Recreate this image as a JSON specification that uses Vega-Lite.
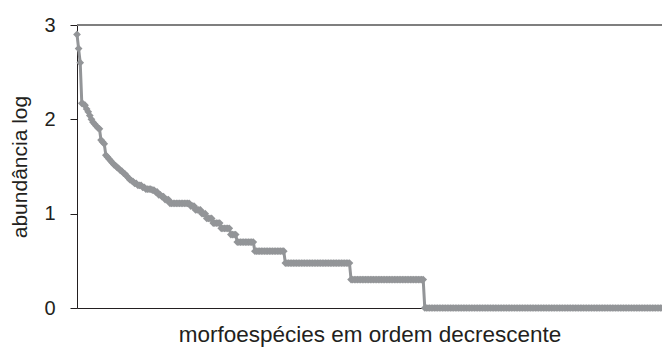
{
"$schema": "https://vega.github.io/schema/vega-lite/v6.json",
"width": 585, "height": 283,
"autosize": {"type": "none"},
"padding": {"left": 77, "top": 25, "right": 0, "bottom": 48},
"background": "white",
"config": {"view": {"stroke": null}, "font": "Liberation Sans"},
"data": {"values": [
{"r":1,"v":2.9},{"r":2,"v":2.75},{"r":3,"v":2.6},{"r":4,"v":2.17},{"r":5,"v":2.16},{"r":6,"v":2.15},{"r":7,"v":2.11},{"r":8,"v":2.08},{"r":9,"v":2.04},{"r":10,"v":2.0},
{"r":11,"v":1.97},{"r":12,"v":1.95},{"r":13,"v":1.93},{"r":14,"v":1.91},{"r":15,"v":1.9},{"r":16,"v":1.78},{"r":17,"v":1.76},{"r":18,"v":1.74},{"r":19,"v":1.62},{"r":20,"v":1.6},
{"r":21,"v":1.58},{"r":22,"v":1.56},{"r":23,"v":1.54},{"r":24,"v":1.52},{"r":25,"v":1.51},{"r":26,"v":1.49},{"r":27,"v":1.48},{"r":28,"v":1.46},{"r":29,"v":1.45},{"r":30,"v":1.43},
{"r":31,"v":1.42},{"r":32,"v":1.4},{"r":33,"v":1.38},{"r":34,"v":1.36},{"r":35,"v":1.35},{"r":36,"v":1.34},{"r":37,"v":1.32},{"r":38,"v":1.32},{"r":39,"v":1.3},{"r":40,"v":1.3},
{"r":41,"v":1.3},{"r":42,"v":1.28},{"r":43,"v":1.28},{"r":44,"v":1.26},{"r":45,"v":1.26},{"r":46,"v":1.26},{"r":47,"v":1.26},{"r":48,"v":1.25},{"r":49,"v":1.25},{"r":50,"v":1.23},
{"r":51,"v":1.23},{"r":52,"v":1.2},{"r":53,"v":1.2},{"r":54,"v":1.18},{"r":55,"v":1.18},{"r":56,"v":1.15},{"r":57,"v":1.15},{"r":58,"v":1.15},{"r":59,"v":1.11},{"r":60,"v":1.11},
{"r":61,"v":1.11},{"r":62,"v":1.11},{"r":63,"v":1.11},{"r":64,"v":1.11},{"r":65,"v":1.11},{"r":66,"v":1.11},{"r":67,"v":1.11},{"r":68,"v":1.11},{"r":69,"v":1.11},{"r":70,"v":1.11},
{"r":71,"v":1.11},{"r":72,"v":1.08},{"r":73,"v":1.08},{"r":74,"v":1.08},{"r":75,"v":1.04},{"r":76,"v":1.04},{"r":77,"v":1.04},{"r":78,"v":1.04},{"r":79,"v":1.0},{"r":80,"v":1.0},
{"r":81,"v":1.0},{"r":82,"v":0.95},{"r":83,"v":0.95},{"r":84,"v":0.95},{"r":85,"v":0.95},{"r":86,"v":0.9},{"r":87,"v":0.9},{"r":88,"v":0.9},{"r":89,"v":0.9},{"r":90,"v":0.9},
{"r":91,"v":0.845},{"r":92,"v":0.845},{"r":93,"v":0.845},{"r":94,"v":0.845},{"r":95,"v":0.845},{"r":96,"v":0.845},{"r":97,"v":0.778},{"r":98,"v":0.778},{"r":99,"v":0.778},{"r":100,"v":0.778},
{"r":101,"v":0.699},{"r":102,"v":0.699},{"r":103,"v":0.699},{"r":104,"v":0.699},{"r":105,"v":0.699},{"r":106,"v":0.699},{"r":107,"v":0.699},{"r":108,"v":0.699},{"r":109,"v":0.699},{"r":110,"v":0.699},
{"r":111,"v":0.699},{"r":112,"v":0.602},{"r":113,"v":0.602},{"r":114,"v":0.602},{"r":115,"v":0.602},{"r":116,"v":0.602},{"r":117,"v":0.602},{"r":118,"v":0.602},{"r":119,"v":0.602},{"r":120,"v":0.602},
{"r":121,"v":0.602},{"r":122,"v":0.602},{"r":123,"v":0.602},{"r":124,"v":0.602},{"r":125,"v":0.602},{"r":126,"v":0.602},{"r":127,"v":0.602},{"r":128,"v":0.602},{"r":129,"v":0.602},{"r":130,"v":0.602},
{"r":131,"v":0.477},{"r":132,"v":0.477},{"r":133,"v":0.477},{"r":134,"v":0.477},{"r":135,"v":0.477},{"r":136,"v":0.477},{"r":137,"v":0.477},{"r":138,"v":0.477},{"r":139,"v":0.477},{"r":140,"v":0.477},
{"r":141,"v":0.477},{"r":142,"v":0.477},{"r":143,"v":0.477},{"r":144,"v":0.477},{"r":145,"v":0.477},{"r":146,"v":0.477},{"r":147,"v":0.477},{"r":148,"v":0.477},{"r":149,"v":0.477},{"r":150,"v":0.477},
{"r":151,"v":0.477},{"r":152,"v":0.477},{"r":153,"v":0.477},{"r":154,"v":0.477},{"r":155,"v":0.477},{"r":156,"v":0.477},{"r":157,"v":0.477},{"r":158,"v":0.477},{"r":159,"v":0.477},{"r":160,"v":0.477},
{"r":161,"v":0.477},{"r":162,"v":0.477},{"r":163,"v":0.477},{"r":164,"v":0.477},{"r":165,"v":0.477},{"r":166,"v":0.477},{"r":167,"v":0.477},{"r":168,"v":0.477},{"r":169,"v":0.477},{"r":170,"v":0.477},
{"r":171,"v":0.477},{"r":172,"v":0.301},{"r":173,"v":0.301},{"r":174,"v":0.301},{"r":175,"v":0.301},{"r":176,"v":0.301},{"r":177,"v":0.301},{"r":178,"v":0.301},{"r":179,"v":0.301},{"r":180,"v":0.301},
{"r":181,"v":0.301},{"r":182,"v":0.301},{"r":183,"v":0.301},{"r":184,"v":0.301},{"r":185,"v":0.301},{"r":186,"v":0.301},{"r":187,"v":0.301},{"r":188,"v":0.301},{"r":189,"v":0.301},{"r":190,"v":0.301},
{"r":191,"v":0.301},{"r":192,"v":0.301},{"r":193,"v":0.301},{"r":194,"v":0.301},{"r":195,"v":0.301},{"r":196,"v":0.301},{"r":197,"v":0.301},{"r":198,"v":0.301},{"r":199,"v":0.301},{"r":200,"v":0.301},
{"r":201,"v":0.301},{"r":202,"v":0.301},{"r":203,"v":0.301},{"r":204,"v":0.301},{"r":205,"v":0.301},{"r":206,"v":0.301},{"r":207,"v":0.301},{"r":208,"v":0.301},{"r":209,"v":0.301},{"r":210,"v":0.301},
{"r":211,"v":0.301},{"r":212,"v":0.301},{"r":213,"v":0.301},{"r":214,"v":0.301},{"r":215,"v":0.301},{"r":216,"v":0.301},{"r":217,"v":0.301},{"r":218,"v":0},{"r":219,"v":0},{"r":220,"v":0},
{"r":221,"v":0},{"r":222,"v":0},{"r":223,"v":0},{"r":224,"v":0},{"r":225,"v":0},{"r":226,"v":0},{"r":227,"v":0},{"r":228,"v":0},{"r":229,"v":0},{"r":230,"v":0},
{"r":231,"v":0},{"r":232,"v":0},{"r":233,"v":0},{"r":234,"v":0},{"r":235,"v":0},{"r":236,"v":0},{"r":237,"v":0},{"r":238,"v":0},{"r":239,"v":0},{"r":240,"v":0},
{"r":241,"v":0},{"r":242,"v":0},{"r":243,"v":0},{"r":244,"v":0},{"r":245,"v":0},{"r":246,"v":0},{"r":247,"v":0},{"r":248,"v":0},{"r":249,"v":0},{"r":250,"v":0},
{"r":251,"v":0},{"r":252,"v":0},{"r":253,"v":0},{"r":254,"v":0},{"r":255,"v":0},{"r":256,"v":0},{"r":257,"v":0},{"r":258,"v":0},{"r":259,"v":0},{"r":260,"v":0},
{"r":261,"v":0},{"r":262,"v":0},{"r":263,"v":0},{"r":264,"v":0},{"r":265,"v":0},{"r":266,"v":0},{"r":267,"v":0},{"r":268,"v":0},{"r":269,"v":0},{"r":270,"v":0},
{"r":271,"v":0},{"r":272,"v":0},{"r":273,"v":0},{"r":274,"v":0},{"r":275,"v":0},{"r":276,"v":0},{"r":277,"v":0},{"r":278,"v":0},{"r":279,"v":0},{"r":280,"v":0},
{"r":281,"v":0},{"r":282,"v":0},{"r":283,"v":0},{"r":284,"v":0},{"r":285,"v":0},{"r":286,"v":0},{"r":287,"v":0},{"r":288,"v":0},{"r":289,"v":0},{"r":290,"v":0},
{"r":291,"v":0},{"r":292,"v":0},{"r":293,"v":0},{"r":294,"v":0},{"r":295,"v":0},{"r":296,"v":0},{"r":297,"v":0},{"r":298,"v":0},{"r":299,"v":0},{"r":300,"v":0},
{"r":301,"v":0},{"r":302,"v":0},{"r":303,"v":0},{"r":304,"v":0},{"r":305,"v":0},{"r":306,"v":0},{"r":307,"v":0},{"r":308,"v":0},{"r":309,"v":0},{"r":310,"v":0},
{"r":311,"v":0},{"r":312,"v":0},{"r":313,"v":0},{"r":314,"v":0},{"r":315,"v":0},{"r":316,"v":0},{"r":317,"v":0},{"r":318,"v":0},{"r":319,"v":0},{"r":320,"v":0},
{"r":321,"v":0},{"r":322,"v":0},{"r":323,"v":0},{"r":324,"v":0},{"r":325,"v":0},{"r":326,"v":0},{"r":327,"v":0},{"r":328,"v":0},{"r":329,"v":0},{"r":330,"v":0},
{"r":331,"v":0},{"r":332,"v":0},{"r":333,"v":0},{"r":334,"v":0},{"r":335,"v":0},{"r":336,"v":0},{"r":337,"v":0},{"r":338,"v":0},{"r":339,"v":0},{"r":340,"v":0},
{"r":341,"v":0},{"r":342,"v":0},{"r":343,"v":0},{"r":344,"v":0},{"r":345,"v":0},{"r":346,"v":0},{"r":347,"v":0},{"r":348,"v":0},{"r":349,"v":0},{"r":350,"v":0},
{"r":351,"v":0},{"r":352,"v":0},{"r":353,"v":0},{"r":354,"v":0},{"r":355,"v":0},{"r":356,"v":0},{"r":357,"v":0},{"r":358,"v":0},{"r":359,"v":0},{"r":360,"v":0},
{"r":361,"v":0},{"r":362,"v":0},{"r":363,"v":0},{"r":364,"v":0},{"r":365,"v":0},{"r":366,"v":0}
]},
"layer": [
{"mark": {"type": "rule", "color": "#7f7f7f", "strokeWidth": 1.5}, "encoding": {"y": {"datum": 3}}},
{"mark": {"type": "line", "color": "#939598", "strokeWidth": 3, "point": {"shape": "diamond", "size": 60, "filled": true, "color": "#939598", "opacity": 1}},
 "encoding": {
  "x": {"field": "r", "type": "quantitative", "scale": {"domain": [1, 366], "nice": false, "zero": false},
        "axis": {"labels": false, "ticks": false, "grid": false, "zindex": 0, "domainColor": "#231f20", "domainWidth": 1,
                 "title": "morfoespécies em ordem decrescente", "titleFontSize": 22.5, "titleFontWeight": "normal", "titleColor": "#231f20", "titlePadding": 15}},
  "y": {"field": "v", "type": "quantitative", "scale": {"domain": [0, 3], "nice": false},
        "axis": {"values": [0, 1, 2, 3], "format": "d", "grid": false, "zindex": 0, "tickSize": 7, "tickColor": "#231f20", "domainColor": "#231f20",
                 "labelFontSize": 20, "labelColor": "#231f20", "labelPadding": 15,
                 "title": "abundância log", "titleFontSize": 21, "titleFontWeight": "normal", "titleColor": "#231f20", "titlePadding": 13}}
 }}
]
}
